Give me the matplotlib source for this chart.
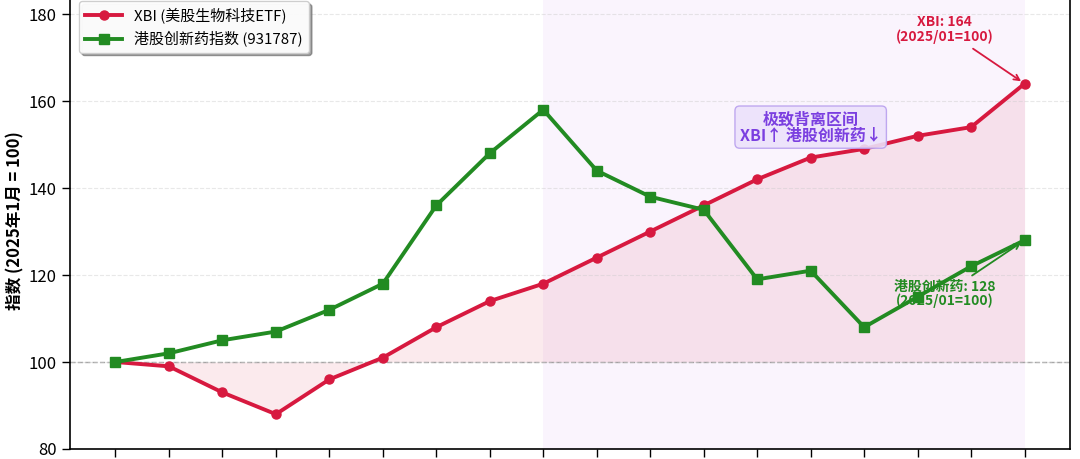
import matplotlib
matplotlib.use("Agg")
import matplotlib.pyplot as plt
import numpy as np

plt.rcParams['font.family'] = ['Noto Sans CJK SC', 'DejaVu Sans']
plt.rcParams['axes.unicode_minus'] = False

months = ['2025-01', '2025-02', '2025-03', '2025-04', '2025-05', '2025-06',
          '2025-07', '2025-08', '2025-09', '2025-10', '2025-11', '2025-12',
          '2026-01', '2026-02', '2026-03', '2026-04', '2026-05', '2026-06']
xbi = [100, 99, 93, 88, 96, 101, 108, 114, 118, 124, 130, 136, 142, 147, 149, 152, 154, 164]
hk = [100, 102, 105, 107, 112, 118, 136, 148, 158, 144, 138, 135, 119, 121, 108, 115, 122, 128]
xbi_label = 'XBI (美股生物科技ETF)'
hk_label = '港股创新药指数 (931787)'
yticks = [80, 100, 120, 140, 160, 180]
div_start, div_end = 8, 17

red = '#d7193f'
green = '#228b22'
purple = '#7b3fe0'

fig = plt.figure(figsize=(10.8, 4.59), dpi=100)
ax = fig.add_axes([0.0648, 0.0218, 0.926, 0.995])

x = np.arange(len(months))

ax.axvspan(div_start, div_end, color='#c27ee6', alpha=0.08, lw=0, zorder=0)
ax.fill_between(x, xbi, 100, color=red, alpha=0.09, lw=0, zorder=1)
ax.axhline(100, color='gray', ls='--', lw=1, alpha=0.7, zorder=1)

ax.plot(x, xbi, color=red, lw=2.8, marker='o', ms=6.5, label=xbi_label, zorder=3)
ax.plot(x, hk, color=green, lw=2.8, marker='s', ms=6.5, label=hk_label, zorder=3)

ax.set_xlim(-0.85, 17.85)
ax.set_ylim(80, 185)
ax.set_yticks(yticks)
ax.set_xticks(x)
ax.set_xticklabels(months)
ax.tick_params(axis='both', labelsize=12, length=6, width=1)
ax.grid(axis='y', ls='--', color='#cccccc', alpha=0.45, lw=0.8)
ax.set_ylabel('指数 (2025年1月 = 100)', fontsize=12, fontweight='bold', labelpad=3)

for s in ax.spines.values():
    s.set_linewidth(1.2)

ax.annotate(f'XBI: {xbi[-1]}\n(2025/01=100)', xy=(x[-1], xbi[-1]), xytext=(15.5, 176.5),
            ha='center', va='center', fontsize=10, fontweight='bold', color=red,
            linespacing=1.0,
            arrowprops=dict(arrowstyle='->', color=red, lw=1.3, shrinkA=3, shrinkB=3), zorder=5)

ax.annotate(f'港股创新药: {hk[-1]}\n(2025/01=100)', xy=(x[-1], hk[-1]), xytext=(15.5, 115.6),
            ha='center', va='center', fontsize=10, fontweight='bold', color=green,
            linespacing=1.0,
            arrowprops=dict(arrowstyle='->', color=green, lw=1.3, shrinkA=2, shrinkB=3), zorder=2)

ax.text(13.0, 154.0, '极致背离区间\nXBI↑ 港股创新药↓', ha='center', va='center',
        fontsize=11.5, fontweight='bold', color=purple, linespacing=1.05, zorder=5,
        bbox=dict(boxstyle='round,pad=0.3', facecolor='#ece2fb', edgecolor='#b9a0ee', alpha=0.9))

leg = ax.legend(loc='upper left', fontsize=10.8, shadow=True, framealpha=0.95,
                fancybox=True, handlelength=2.5, borderaxespad=0.6)

fig.savefig('out.png', dpi=100)
